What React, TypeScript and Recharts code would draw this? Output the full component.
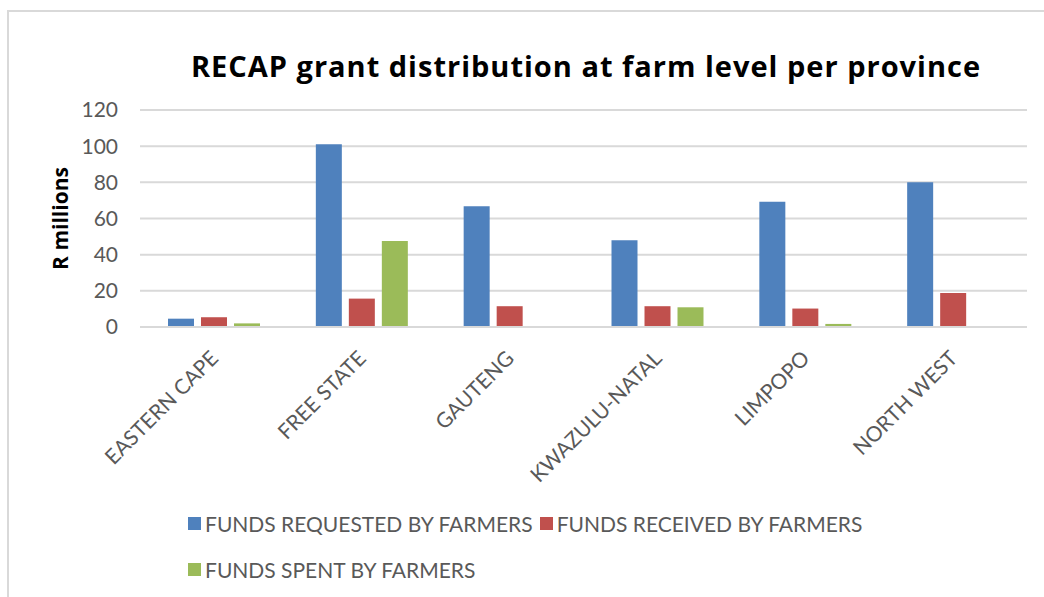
import { Bar, BarChart, CartesianGrid, Legend, XAxis, YAxis } from "recharts";

const PROVINCES = ["EASTERN CAPE", "FREE STATE", "GAUTENG", "KWAZULU-NATAL", "LIMPOPO", "NORTH WEST"];
const REQUESTED = [4.6, 101, 66.8, 48, 69.2, 80.1];
const RECEIVED = [5.4, 15.7, 11.5, 11.5, 10.2, 18.8];
const SPENT = [2.0, 47.5, 0, 10.9, 1.7, 0];
const Y_TICKS = [0, 20, 40, 60, 80, 100, 120];

const SERIES = [
  { key: "requested", name: "FUNDS REQUESTED BY FARMERS", color: "#4f81bd" },
  { key: "received", name: "FUNDS RECEIVED BY FARMERS", color: "#c0504d" },
  { key: "spent", name: "FUNDS SPENT BY FARMERS", color: "#9bbb59" }
];

const data = PROVINCES.map((province, i) => ({
  province,
  requested: REQUESTED[i],
  received: RECEIVED[i],
  spent: SPENT[i]
}));

const FONT = "Lato, 'Open Sans', sans-serif";
const BOLD_FONT = "'Open Sans', Lato, sans-serif";
const TEXT_GREY = "#595959";

function ProvinceTick(props: any) {
  const { x, y, payload } = props;
  return (
    <text
      transform={`translate(${x - 5},${y + 14}) rotate(-45)`}
      textAnchor="end"
      dy="0.72em"
      fill={TEXT_GREY}
      fontSize={21}
      fontFamily={FONT}
    >
      {payload.value}
    </text>
  );
}

function AxisTitle(props: any) {
  const vb = props.viewBox || {};
  const cx = 60;
  const cy = vb.y + vb.height / 2;
  return (
    <text
      x={cx}
      y={cy}
      transform={`rotate(-90, ${cx}, ${cy})`}
      textAnchor="middle"
      dominantBaseline="central"
      fontSize={21}
      fontWeight="bold"
      fontFamily={BOLD_FONT}
      fill="#000"
    >
      R millions
    </text>
  );
}

function LegendContent() {
  return (
    <div style={{ display: "flex", flexWrap: "wrap", rowGap: 19, columnGap: 7, fontFamily: FONT }}>
      {SERIES.map((s) => (
        <div key={s.key} style={{ display: "flex", alignItems: "center", height: 27 }}>
          <span style={{ width: 13, height: 13, background: s.color, marginRight: 4 }} />
          <span style={{ fontSize: 21, color: TEXT_GREY, whiteSpace: "nowrap" }}>{s.name}</span>
        </div>
      ))}
    </div>
  );
}

export default function App() {
  return (
    <div
      style={{
        position: "absolute",
        left: 0,
        top: 0,
        width: 1044,
        height: 597,
        background: "#fff",
        overflow: "hidden",
        fontFamily: FONT
      }}
    >
      <div
        style={{
          position: "absolute",
          left: 7,
          top: 10,
          width: 1100,
          height: 700,
          border: "2px solid #d9d9d9"
        }}
      />
      <div
        style={{
          position: "absolute",
          left: 0,
          width: 1172,
          top: 46,
          textAlign: "center",
          fontSize: 29,
          letterSpacing: 1,
          fontWeight: "bold",
          fontFamily: BOLD_FONT,
          color: "#000",
          lineHeight: "40px"
        }}
      >
        RECAP grant distribution at farm level per province
      </div>
      <div style={{ position: "absolute", left: 0, top: 0 }}>
        <BarChart
          width={1044}
          height={597}
          data={data}
          margin={{ top: 110, right: 17, bottom: 100, left: 0 }}
          barSize={26}
          barGap={7}
        >
          <CartesianGrid vertical={false} stroke="#d9d9d9" strokeWidth={2} />
          <XAxis
            dataKey="province"
            height={170}
            interval={0}
            tickLine={false}
            axisLine={{ stroke: "#d9d9d9", strokeWidth: 2 }}
            tick={<ProvinceTick />}
          />
          <YAxis
            width={140}
            domain={[0, 120]}
            ticks={Y_TICKS}
            tickLine={false}
            axisLine={false}
            tickMargin={16}
            tick={{ fill: TEXT_GREY, fontSize: 21, fontFamily: FONT }}
            label={<AxisTitle />}
          />
          <Legend
            layout="horizontal"
            verticalAlign="middle"
            content={<LegendContent />}
            wrapperStyle={{ left: 188, top: 510, width: 720 }}
          />
          {SERIES.map((s) => (
            <Bar key={s.key} dataKey={s.key} name={s.name} fill={s.color} isAnimationActive={false} />
          ))}
        </BarChart>
      </div>
    </div>
  );
}
